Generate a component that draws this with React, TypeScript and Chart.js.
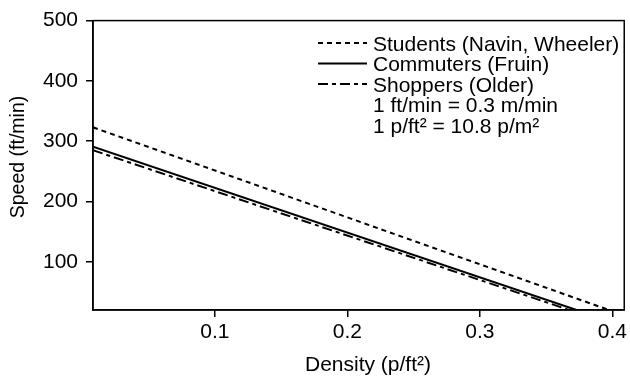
import React, { useEffect, useRef } from "react";
import { Chart, registerables } from "chart.js";

Chart.register(...registerables);

const studentsDensity = [0.008, 0.3975];
const studentsSpeed = [323, 20];
const commutersDensity = [0.008, 0.373];
const commutersSpeed = [291, 20];
const shoppersDensity = [0.008, 0.3675];
const shoppersSpeed = [285, 20];

const xTicks = [0.1, 0.2, 0.3, 0.4];
const yTicks = [100, 200, 300, 400, 500];
const xTickLabels = ["0.1", "0.2", "0.3", "0.4"];

const xTitle = "Density (p/ft\u00B2)";
const yTitle = "Speed (ft/min)";

const legendLabels = [
  "Students (Navin, Wheeler)",
  "Commuters (Fruin)",
  "Shoppers (Older)",
  "1 ft/min = 0.3 m/min",
  "1 p/ft\u00B2 = 10.8 p/m\u00B2",
];

const FONT = "'Liberation Sans', Arial, sans-serif";
const studentsDash = [5, 4];
const commutersDash: number[] = [];
const shoppersDash = [10, 4, 4, 4];
const legendDashes = [studentsDash, commutersDash, shoppersDash];

const pts = (xs: number[], ys: number[]) => xs.map((x, i) => ({ x, y: ys[i] }));

export default function App() {
  const ref = useRef<HTMLCanvasElement | null>(null);
  useEffect(() => {
    if (!ref.current) return;
    const boxPlugin = {
      id: "boxLegend",
      afterDraw(chart: any) {
        const { ctx, chartArea } = chart;
        ctx.save();
        ctx.strokeStyle = "#000";
        ctx.lineWidth = 1.5;
        ctx.strokeRect(chartArea.left, chartArea.top, chartArea.right - chartArea.left, chartArea.bottom - chartArea.top);
        ctx.font = `21px ${FONT}`;
        ctx.fillStyle = "#000";
        ctx.textBaseline = "alphabetic";
        ctx.textAlign = "left";
        const x0 = 318, x1 = 367, tx = 373;
        legendLabels.forEach((lab, i) => {
          const cy = 43 + i * 20.5;
          if (i < 3) {
            ctx.beginPath();
            ctx.setLineDash(legendDashes[i]);
            ctx.lineWidth = 2;
            ctx.moveTo(x0, cy);
            ctx.lineTo(x1, cy);
            ctx.stroke();
          }
          ctx.setLineDash([]);
          ctx.fillText(lab, tx, cy + 7.5);
        });
        // axis titles
        ctx.textAlign = "center";
        ctx.textBaseline = "middle";
        ctx.fillText(xTitle, 368, 365);
        ctx.save();
        ctx.translate(19, 157);
        ctx.rotate(-Math.PI / 2);
        ctx.font = `19.5px ${FONT}`;
        ctx.fillText(yTitle, 0, 0);
        ctx.restore();
        ctx.restore();
      },
    };
    const common = { borderColor: "#000", borderWidth: 2, pointRadius: 0, fill: false, tension: 0 };
    const chart = new Chart(ref.current, {
      type: "line",
      data: {
        datasets: [
          { ...common, label: "Students", data: pts(studentsDensity, studentsSpeed), borderDash: studentsDash },
          { ...common, label: "Commuters", data: pts(commutersDensity, commutersSpeed), borderDash: commutersDash },
          { ...common, label: "Shoppers", data: pts(shoppersDensity, shoppersSpeed), borderDash: shoppersDash },
        ],
      },
      options: {
        animation: false,
        responsive: false,
        devicePixelRatio: 1,
        layout: { padding: { top: 15, right: 4, left: 0, bottom: 0 } },
        plugins: { legend: { display: false }, tooltip: { enabled: false } },
        scales: {
          x: {
            type: "linear",
            min: 0.008,
            max: 0.409,
            afterBuildTicks: (s: any) => { s.ticks = xTicks.map((v) => ({ value: v })); },
            afterFit: (s: any) => { s.height = 71; },
            ticks: {
              color: "#000",
              font: { family: FONT, size: 21 },
              padding: 3,
              maxRotation: 0,
              autoSkip: false,
              callback: (v: any) => { const i = xTicks.indexOf(Number(v)); return i >= 0 ? xTickLabels[i] : ""; },
            },
            grid: { display: true, drawOnChartArea: false, drawTicks: true, tickLength: 7, color: "#000", lineWidth: 1.5 },
            border: { display: true, color: "#000", width: 1.5 },
            title: { display: false },
          },
          y: {
            type: "linear",
            min: 20,
            max: 500,
            afterBuildTicks: (s: any) => { s.ticks = yTicks.map((v) => ({ value: v })); },
            afterFit: (s: any) => { s.width = 93; },
            ticks: {
              color: "#000",
              font: { family: FONT, size: 21 },
              padding: 8,
              autoSkip: false,
              callback: (v: any) => String(v),
            },
            grid: { display: true, drawOnChartArea: false, drawTicks: true, tickLength: 7, color: "#000", lineWidth: 1.5 },
            border: { display: true, color: "#000", width: 1.5 },
            title: { display: false },
          },
        },
      },
      plugins: [boxPlugin],
    } as any);
    return () => chart.destroy();
  }, []);
  return (
    <div style={{ position: "absolute", left: 0, top: 0, width: 630, height: 381, background: "#fff" }}>
      <canvas ref={ref} width={630} height={381} style={{ width: 630, height: 381 }} />
    </div>
  );
}
